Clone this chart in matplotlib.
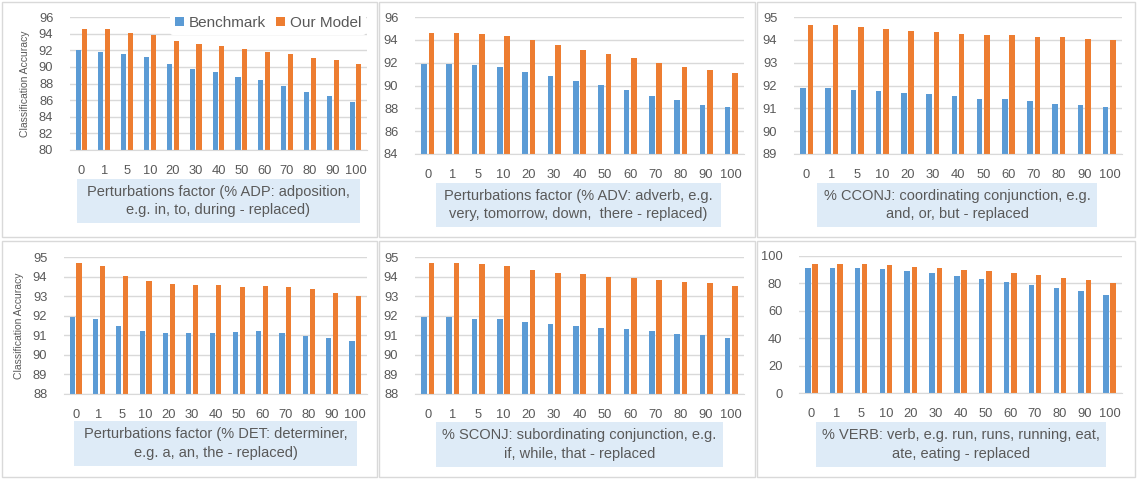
import numpy as np
import matplotlib.pyplot as plt
from matplotlib.patches import Rectangle

factors = ['0', '1', '5', '10', '20', '30', '40', '50', '60', '70', '80', '90', '100']

adp_bench = [92.0, 91.8, 91.5, 91.2, 90.4, 89.8, 89.4, 88.8, 88.4, 87.7, 87.0, 86.5, 85.8]
adp_model = [94.6, 94.6, 94.1, 93.8, 93.15, 92.7, 92.55, 92.2, 91.8, 91.6, 91.1, 90.8, 90.3]

adv_bench = [91.9, 91.9, 91.8, 91.65, 91.2, 90.86, 90.4, 90.07, 89.6, 89.1, 88.76, 88.3, 88.1]
adv_model = [94.63, 94.63, 94.54, 94.36, 94.0, 93.58, 93.14, 92.8, 92.44, 92.0, 91.65, 91.39, 91.12]

cconj_bench = [91.9, 91.9, 91.82, 91.77, 91.69, 91.64, 91.55, 91.42, 91.42, 91.3, 91.2, 91.16, 91.07]
cconj_model = [94.66, 94.66, 94.58, 94.49, 94.4, 94.36, 94.27, 94.23, 94.23, 94.14, 94.14, 94.05, 94.0]

det_bench = [91.95, 91.85, 91.49, 91.24, 91.13, 91.13, 91.13, 91.18, 91.24, 91.13, 90.98, 90.88, 90.72]
det_model = [94.71, 94.56, 94.05, 93.79, 93.64, 93.59, 93.59, 93.48, 93.53, 93.48, 93.38, 93.18, 93.02]

sconj_bench = [91.93, 91.93, 91.83, 91.83, 91.68, 91.58, 91.47, 91.37, 91.32, 91.22, 91.06, 91.01, 90.86]
sconj_model = [94.71, 94.71, 94.66, 94.55, 94.35, 94.2, 94.14, 93.99, 93.94, 93.84, 93.73, 93.68, 93.53]

verb_bench = [91.5, 91.5, 91.5, 90.8, 89.3, 87.8, 85.6, 83.5, 81.3, 79.1, 76.9, 74.7, 71.8]
verb_model = [94.4, 94.4, 94.4, 93.7, 92.2, 91.5, 90.0, 89.3, 87.8, 86.4, 84.2, 82.7, 80.5]

xlabels = [
    'Perturbations factor (% ADP: adposition,\ne.g. in, to, during - replaced)',
    'Perturbations factor (% ADV: adverb, e.g.\nvery, tomorrow, down,  there - replaced)',
    '% CCONJ: coordinating conjunction, e.g.\nand, or, but - replaced',
    'Perturbations factor (% DET: determiner,\ne.g. a, an, the - replaced)',
    '% SCONJ: subordinating conjunction, e.g.\nif, while, that - replaced',
    '% VERB: verb, e.g. run, runs, running, eat,\nate, eating - replaced',
]

BLUE = '#5B9BD5'
ORANGE = '#ED7D31'
GRID = '#D9D9D9'
TXT = '#595959'
W, H = 1140, 482

plt.rcParams['font.family'] = ['Liberation Sans', 'DejaVu Sans']

fig = plt.figure(figsize=(W / 100, H / 100), dpi=100)


def rect(x0, y0, x1, y1):
    # pixel box -> figure fraction [left, bottom, width, height]
    return [x0 / W, 1 - y1 / H, (x1 - x0) / W, (y1 - y0) / H]


# panel frames
for (x0, x1) in [(2, 377), (379, 755), (757, 1135)]:
    for (y0, y1) in [(2, 237), (241, 477)]:
        l, b, w, h = rect(x0, y0, x1, y1)
        fig.patches.append(Rectangle((l, b), w, h, transform=fig.transFigure,
                                     fill=False, edgecolor=GRID, linewidth=1))

panels = [
    (adp_bench, adp_model, (70, 17, 367, 150), (80, 96), 2, (77, 179, 360, 223)),
    (adv_bench, adv_model, (415, 17, 744, 154), (84, 96), 2, (436, 183, 721, 227)),
    (cconj_bench, cconj_model, (794, 17, 1122, 154), (89, 95), 1, (817, 183, 1097, 227)),
    (det_bench, det_model, (64, 257, 367, 394), (88, 95), 1, (74, 421, 357, 466)),
    (sconj_bench, sconj_model, (415, 257, 744, 394), (88, 95), 1, (436, 422, 723, 467)),
    (verb_bench, verb_model, (799, 256, 1122, 393), (0, 100), 20, (816, 422, 1106, 467)),
]

x = np.arange(len(factors))
bw = 0.22
off = 0.146

for i, (bench, model, box, ylim, step, lbox) in enumerate(panels):
    ax = fig.add_axes(rect(*box))
    ax.bar(x - off, bench, bw, color=BLUE, label='Benchmark', zorder=2)
    ax.bar(x + off, model, bw, color=ORANGE, label='Our Model', zorder=2)
    ax.set_xlim(-0.5, len(factors) - 0.5)
    ax.set_ylim(*ylim)
    ax.set_yticks(np.arange(ylim[0], ylim[1] + step / 2, step))
    ax.set_xticks(x)
    ax.set_xticklabels(factors)
    ax.yaxis.grid(True, color=GRID, linewidth=1)
    ax.set_axisbelow(True)
    for s in ['top', 'right', 'left']:
        ax.spines[s].set_visible(False)
    ax.spines['bottom'].set_color(GRID)
    ax.tick_params(length=0, labelsize=9.3, colors=TXT)
    ax.tick_params(axis='x', pad=11)
    ax.tick_params(axis='y', pad=12)
    ax.set_facecolor('none')

    if i in (0, 3):
        ax.set_ylabel('Classification Accuracy', fontsize=7.5, color=TXT, labelpad=6)
    if i == 0:
        leg = ax.legend(loc='center right', bbox_to_anchor=(366 / W, 1 - 23 / H),
                        bbox_transform=fig.transFigure, ncol=2, frameon=True,
                        fontsize=11, handlelength=0.6, handleheight=0.6,
                        handletextpad=0.35, columnspacing=0.6, borderpad=0.3,
                        borderaxespad=0)
        leg.get_frame().set_facecolor('white')
        leg.get_frame().set_edgecolor('none')
        leg.get_frame().set_alpha(1)
        for t in leg.get_texts():
            t.set_color(TXT)

    l, b, w, h = rect(*lbox)
    fig.patches.append(Rectangle((l, b), w, h, transform=fig.transFigure,
                                 facecolor='#DEEBF7', edgecolor='none'))
    fig.text(l + w / 2, b + h / 2, xlabels[i], ha='center', va='center',
             fontsize=10.5, color=TXT, linespacing=1.4)

fig.savefig('out.png', dpi=100)
